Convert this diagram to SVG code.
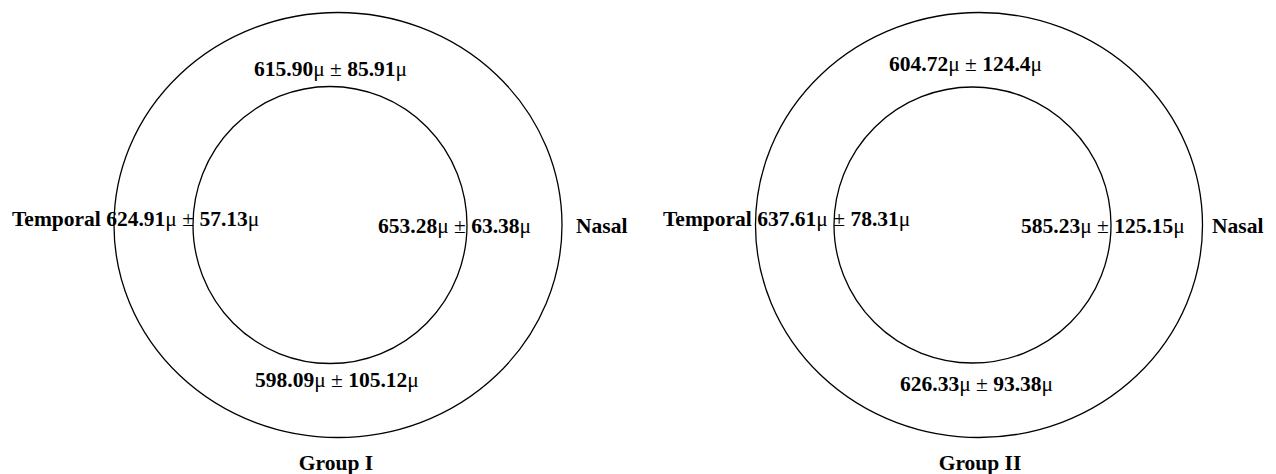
<svg xmlns="http://www.w3.org/2000/svg" width="1276" height="474" viewBox="0 0 1276 474">
<style>
.ring{fill:none;stroke:#000;stroke-width:1.3}
text{font-family:"Liberation Serif","Times New Roman",serif;font-size:21.5px;font-weight:bold;fill:#000}
.n{font-weight:normal}
</style>
<rect width="1276" height="474" fill="#fff"/>
<g id="group1">
<ellipse class="ring" cx="338" cy="225" rx="224" ry="212.5"/>
<ellipse class="ring" cx="330" cy="225" rx="137" ry="138.5"/>
<text x="254" y="76">615.90<tspan class="n">μ ±</tspan> 85.91<tspan class="n">μ</tspan></text>
<text x="12" y="226">Temporal 624.91<tspan class="n">μ ±</tspan> 57.13<tspan class="n">μ</tspan></text>
<text x="378" y="233">653.28<tspan class="n">μ ±</tspan> 63.38<tspan class="n">μ</tspan></text>
<text x="576" y="233">Nasal</text>
<text x="255" y="387">598.09<tspan class="n">μ ±</tspan> 105.12<tspan class="n">μ</tspan></text>
<text x="336" y="470" text-anchor="middle">Group I</text>
</g>
<g id="group2">
<ellipse class="ring" cx="979" cy="225" rx="223.5" ry="212.5"/>
<ellipse class="ring" cx="972.5" cy="225" rx="138.5" ry="138"/>
<text x="889" y="71">604.72<tspan class="n">μ ±</tspan> 124.4<tspan class="n">μ</tspan></text>
<text x="663" y="226">Temporal 637.61<tspan class="n">μ ±</tspan> 78.31<tspan class="n">μ</tspan></text>
<text x="1021" y="233">585.23<tspan class="n">μ ±</tspan> 125.15<tspan class="n">μ</tspan></text>
<text x="1212" y="233">Nasal</text>
<text x="900" y="391">626.33<tspan class="n">μ ±</tspan> 93.38<tspan class="n">μ</tspan></text>
<text x="980" y="470" text-anchor="middle">Group II</text>
</g>
<g id="connectors"></g>
</svg>
